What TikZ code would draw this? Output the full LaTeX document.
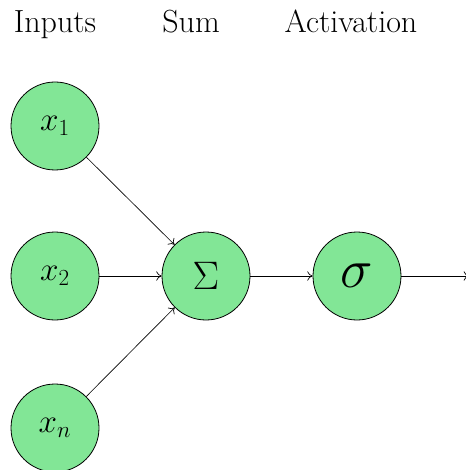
\documentclass[tikz,border=0pt]{standalone}
\usepackage{graphicx}
\usetikzlibrary{arrows.meta}
\tikzset{
  neuron/.style={circle, draw=black, fill={rgb,255:red,130;green,230;blue,150}, minimum size=66pt, inner sep=0pt, line width=0.6pt},
  conn/.style={-{To[length=4pt,width=7pt]}, line width=0.5pt},
  head/.style={font=\fontsize{24}{28}\selectfont, anchor=base}
}
\begin{document}
\begin{tikzpicture}[x=0.75pt,y=-0.75pt]
\useasboundingbox (0,0) rectangle (465,470);
\node[neuron, font=\fontsize{24}{28}\selectfont] (x1) at (55,126) {$x_1$};
\node[neuron, font=\fontsize{24}{28}\selectfont] (x2) at (55,276) {$x_2$};
\node[neuron, font=\fontsize{24}{28}\selectfont] (xn) at (55,428) {$x_n$};
\node[neuron, font=\fontsize{24}{28}\selectfont] (sum) at (206,276) {\scalebox{1.2}{$\Sigma$}};
\node[neuron, font=\fontsize{24}{28}\selectfont] (act) at (357,276) {\scalebox{1.65}{$\sigma$}};
\coordinate (out) at (469,276);
\node[head] (hin) at (55,33) {Inputs};
\node[head] (hsum) at (191,33) {Sum};
\node[head] (hact) at (351,33) {Activation};
\draw[conn] (x1) -- (sum);
\draw[conn] (x2) -- (sum);
\draw[conn] (xn) -- (sum);
\draw[conn] (sum) -- (act);
\draw[conn] (act) -- (out);
\end{tikzpicture}
\end{document}
